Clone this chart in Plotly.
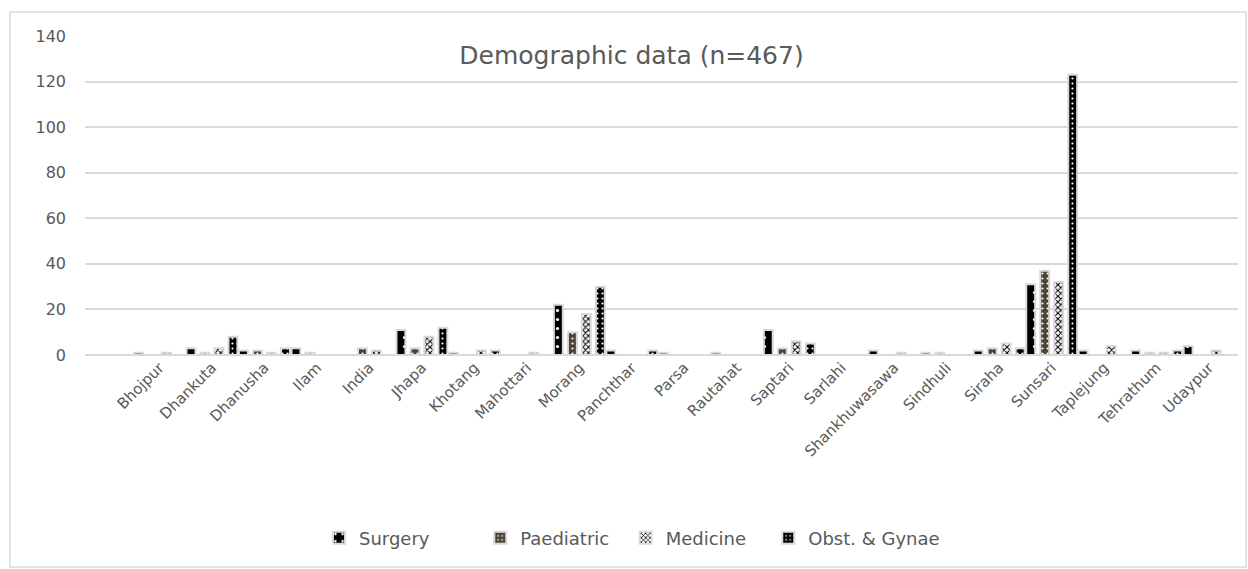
import plotly.graph_objects as go

categories = ["Bhojpur", "Dhankuta", "Dhanusha", "Ilam", "India", "Jhapa", "Khotang",
              "Mahottari", "Morang", "Panchthar", "Parsa", "Rautahat", "Saptari", "Sarlahi",
              "Shankhuwasawa", "Sindhuli", "Siraha", "Sunsari", "Taplejung", "Tehrathum", "Udaypur"]

surgery    = [1, 3, 2, 3, None, 11, 1, None, 22, 2, 1, 1, 11, None, 2, 1, 2, 31, 2, 2, 4]
paediatric = [None, 1, 2, 1, 3, 3, None, None, 10, None, None, None, 3, None, None, 1, 3, 37, None, 1, None]
medicine   = [1, 3, 1, None, 2, 8, 2, 1, 18, None, None, None, 6, None, 1, None, 5, 32, 4, 1, 2]
obst_gynae = [None, 8, 3, None, None, 12, 2, None, 30, 2, None, None, 5, None, None, None, 3, 123, None, 2, None]

series_names = ["Surgery", "Paediatric", "Medicine", "Obst. & Gynae"]
series_values = [surgery, paediatric, medicine, obst_gynae]
# trailing no-break spaces only widen the legend entries to match the reference spacing
legend_pad = [8, 2, 3, 0]

FONT = "DejaVu Sans"
GRAY_TXT = "#595959"
GRID = "#d9d9d9"

styles = [
    dict(bg="black", fg="white", shape=".", size=9, solidity=0.1),
    dict(bg="#4a4530", fg="white", shape=".", size=5, solidity=0.15),
    dict(bg="white", fg="black", shape="x", size=4, solidity=0.45),
    dict(bg="black", fg="white", shape=".", size=5, solidity=0.15),
]
bar_w = 0.17
centers = [-0.40, -0.133, 0.133, 0.40]

fig = go.Figure()
for name, vals, st, c, pad in zip(series_names, series_values, styles, centers, legend_pad):
    fig.add_trace(go.Bar(
        x=categories, y=vals, name=name + "\u00a0" * pad,
        width=bar_w, offset=c - bar_w / 2,
        marker=dict(
            color=st["bg"],
            line=dict(color=GRID, width=2),
            pattern=dict(shape=st["shape"], fgcolor=st["fg"], bgcolor=st["bg"],
                         size=st["size"], solidity=st["solidity"], fillmode="replace"),
        ),
    ))

L, R, T, B = 85, 10, 36, 214
W, H = 1248, 569
pw = W - L - R
ph = H - T - B

def px_x(p):
    return (p - L) / pw

def px_y(p):
    return (H - B - p) / ph

fig.update_layout(
    width=W, height=H,
    margin=dict(l=L, r=R, t=T, b=B),
    paper_bgcolor="white", plot_bgcolor="white",
    barmode="overlay",
    font=dict(family=FONT, color=GRAY_TXT, size=15),
    title=dict(text="Demographic data (n=467)", x=0.506, y=1 - 55 / H,
               xanchor="center", yanchor="middle", xref="container", yref="container",
               font=dict(family=FONT, size=25, color=GRAY_TXT)),
    xaxis=dict(type="category", categoryorder="array", categoryarray=categories,
               range=[-1.42, 20.55], tickangle=-45, showgrid=False, showline=False,
               ticks="", tickfont=dict(family=FONT, size=15, color=GRAY_TXT)),
    yaxis=dict(range=[0, 140], dtick=20, showgrid=True, gridcolor=GRID, gridwidth=1.5,
               zeroline=True, zerolinecolor=GRID, zerolinewidth=1.5, showline=False,
               ticks="", ticklabelstandoff=18,
               tickfont=dict(family=FONT, size=16, color=GRAY_TXT)),
    legend=dict(orientation="h", x=px_x(319), xanchor="left", y=px_y(538), yanchor="middle",
                font=dict(family=FONT, size=18, color=GRAY_TXT),
                itemwidth=30, bgcolor="rgba(0,0,0,0)"),
    shapes=[dict(type="rect", xref="paper", yref="paper",
                 x0=px_x(10), x1=px_x(1246), y0=px_y(567), y1=px_y(12),
                 line=dict(color=GRID, width=1.5), fillcolor="rgba(0,0,0,0)", layer="below")],
)

fig.write_html("out.html", config={"displayModeBar": False},
               post_script="document.body.style.margin='0';")
